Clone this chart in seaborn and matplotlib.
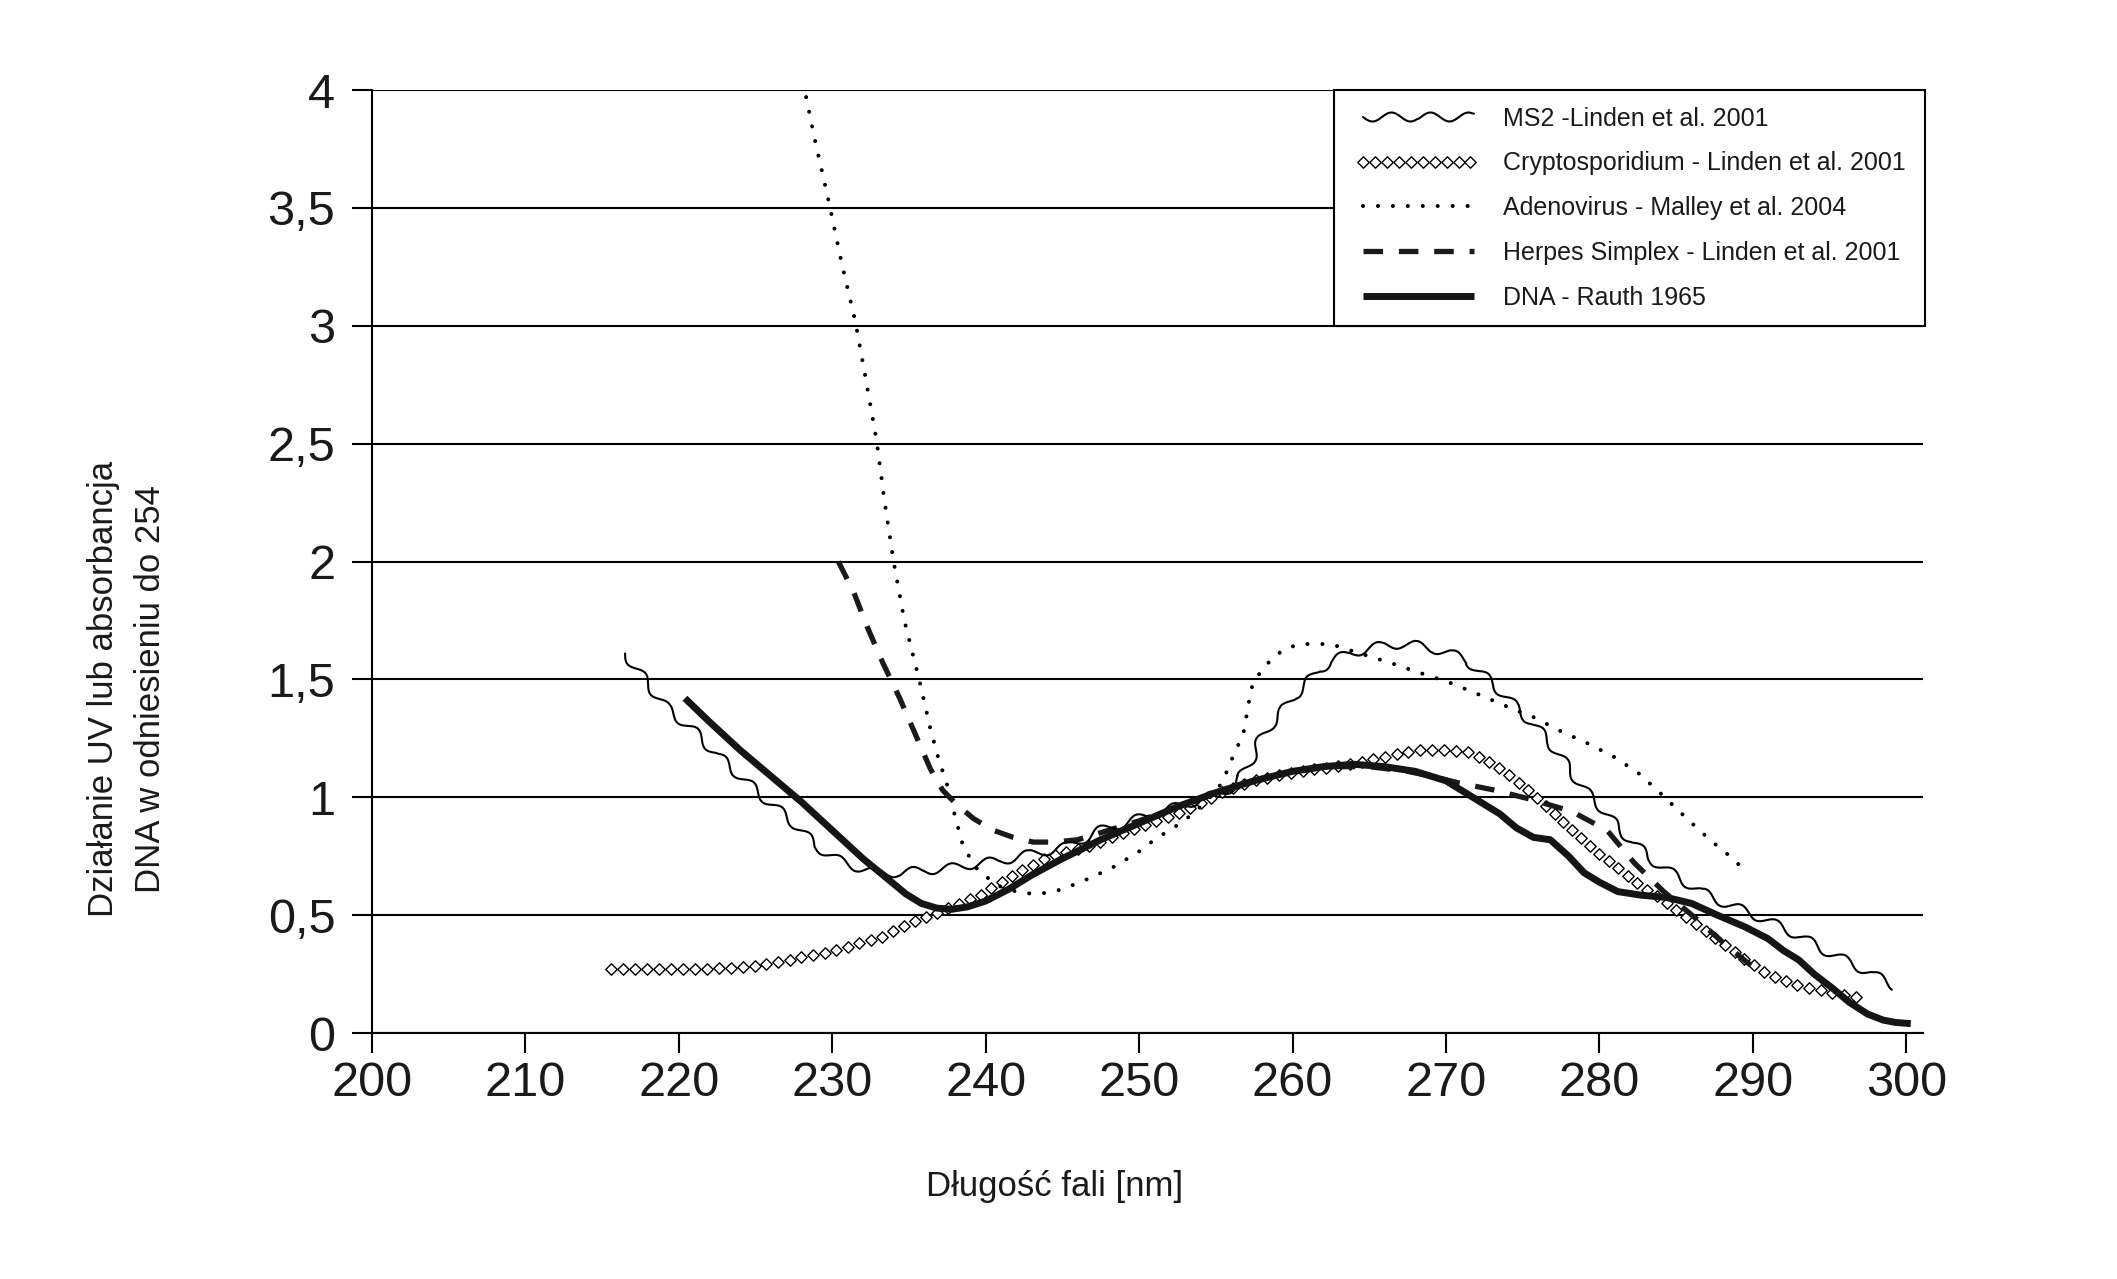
import numpy as np
import pandas as pd
import matplotlib
matplotlib.use("Agg")
import matplotlib.pyplot as plt
import seaborn as sns
from matplotlib.lines import Line2D
from matplotlib.legend_handler import HandlerLine2D
from matplotlib.path import Path
from matplotlib.transforms import Affine2D, IdentityTransform
from matplotlib.patheffects import AbstractPathEffect

# --- values ---
ms2_x = [216.5, 218, 219.2, 221, 222.5, 224, 225.7, 227.5, 229, 230.5, 231.8, 233, 234.4, 236, 237.7,
         239.5, 240.9, 243, 245.3, 247.5, 250, 252.5, 254.5, 256, 256.6, 257.3, 257.9, 258.6, 259.4,
         260.1, 260.9, 261.7, 262.6, 263.7, 264.9, 266, 267, 268, 269.2, 270.3, 271.4, 272.2, 273.1,
         274.6, 275.7, 276.8, 277.7, 278.5, 279.3, 280.1, 281.2, 282.2, 283.3, 284.9, 286.6, 288.2,
         289.8, 291.5, 293.1, 294.7, 296.3, 297.8, 299.2]
ms2_y = [1.61, 1.48, 1.38, 1.28, 1.18, 1.09, 0.99, 0.89, 0.79, 0.73, 0.70, 0.68, 0.68, 0.69, 0.70,
         0.72, 0.73, 0.76, 0.79, 0.86, 0.91, 0.96, 1.00, 1.04, 1.08, 1.16, 1.24, 1.31, 1.37,
         1.43, 1.48, 1.54, 1.58, 1.61, 1.63, 1.645, 1.65, 1.645, 1.63, 1.61, 1.58, 1.53, 1.48,
         1.38, 1.31, 1.23, 1.15, 1.08, 1.01, 0.96, 0.87, 0.81, 0.74, 0.67, 0.60, 0.55,
         0.51, 0.46, 0.41, 0.35, 0.30, 0.25, 0.20]

crypto_x = [215.6, 217, 219, 221, 223, 224.5, 226, 227.9, 229.5, 231.2, 233.3, 235.5, 237.2, 239.8,
            242, 244.2, 247, 249, 250.7, 252.9, 255.7, 257.5, 259.4, 261.5, 263.8, 265.9, 268.1,
            270.3, 271.6, 273.1, 274.6, 275.9, 277.4, 278.9, 280.4, 282.2, 284.4, 286.6, 288.7,
            290.9, 293.1, 295.2, 297]
crypto_y = [0.27, 0.27, 0.27, 0.27, 0.275, 0.28, 0.295, 0.32, 0.34, 0.37, 0.41, 0.48, 0.52, 0.59,
            0.68, 0.75, 0.80, 0.85, 0.89, 0.94, 1.03, 1.07, 1.10, 1.12, 1.14, 1.17, 1.20,
            1.20, 1.19, 1.14, 1.07, 1.00, 0.91, 0.82, 0.74, 0.65, 0.55, 0.45, 0.35,
            0.25, 0.20, 0.17, 0.15]

adeno_x = [228.3, 228.9, 229.8, 230.6, 231.5, 232.2, 232.9, 233.4, 234.0, 234.7, 235.7, 236.4, 236.9,
           237.5, 238.0, 238.5, 239.0, 239.5, 240.3, 241, 242, 243.1, 244, 245, 246.9, 248.5, 250,
           251, 252.7, 253.5, 254.5, 255.4, 256.1, 256.8, 257.2, 257.4, 258, 258.7, 259.5, 260.5,
           261.5, 262.5, 264.4, 266.4, 268.2, 270.1, 272, 273.8, 275.7, 277.5, 279.2, 281, 282.6,
           284.1, 285.7, 287.2, 288.7, 289.6]
adeno_y = [3.97, 3.78, 3.52, 3.27, 3.02, 2.77, 2.51, 2.26, 2.00, 1.75, 1.49, 1.29, 1.17,
           1.05, 0.92, 0.80, 0.74, 0.69, 0.65, 0.62, 0.60, 0.59, 0.595, 0.61, 0.66, 0.71, 0.77,
           0.82, 0.89, 0.93, 0.99, 1.06, 1.17, 1.27, 1.42, 1.48, 1.54, 1.59, 1.63, 1.65,
           1.65, 1.65, 1.61, 1.57, 1.53, 1.49, 1.44, 1.39, 1.34, 1.28, 1.23, 1.17, 1.10,
           1.01, 0.91, 0.82, 0.74, 0.68]

herpes_x = [230.4, 231.4, 232.3, 233.3, 234.4, 235.4, 236.4, 237.2, 238.1, 239.2, 240.5, 241.8, 243.1,
            244.5, 246, 248, 250, 252.5, 255, 257.5, 260, 262.5, 265, 267.5, 269, 270.9, 273.2,
            275.6, 278.2, 280.5, 282.3, 284.2, 286.4, 288.3, 290.4]
herpes_y = [2.00, 1.87, 1.72, 1.57, 1.42, 1.27, 1.12, 1.03, 0.97, 0.91, 0.86, 0.83, 0.81,
            0.81, 0.82, 0.86, 0.90, 0.96, 1.02, 1.07, 1.11, 1.13, 1.13, 1.11, 1.09, 1.06, 1.03,
            0.99, 0.94, 0.86, 0.72, 0.60, 0.48, 0.37, 0.26]

dna_x = [220.4, 222, 224, 226, 228, 230, 232, 233.5, 234.8, 235.8, 236.8, 237.8, 238.8, 240, 241.5,
         243, 245, 247.5, 250, 252.5, 255, 257.5, 260, 262, 264, 266, 268, 270, 272, 273.5, 274.6,
         275.7, 276.8, 278, 279, 280, 281.2, 282.7, 284.4, 286, 287.7, 289.5, 291, 292, 293, 294,
         295.2, 296.3, 297.5, 298.5, 299.3, 300.3]
dna_y = [1.42, 1.32, 1.20, 1.09, 0.98, 0.86, 0.74, 0.66, 0.59, 0.55, 0.53, 0.525, 0.535, 0.56, 0.61,
         0.67, 0.74, 0.82, 0.89, 0.96, 1.02, 1.07, 1.11, 1.13, 1.14, 1.13, 1.11, 1.07, 0.99, 0.93, 0.87,
         0.83, 0.82, 0.75, 0.68, 0.64, 0.60, 0.585, 0.575, 0.55, 0.50, 0.45, 0.40, 0.35, 0.31, 0.25,
         0.19, 0.13, 0.08, 0.055, 0.045, 0.04]

labels = ["MS2 -Linden et al. 2001",
          "Cryptosporidium - Linden et al. 2001",
          "Adenovirus - Malley et al. 2004",
          "Herpes Simplex - Linden et al. 2001",
          "DNA - Rauth 1965"]

x_ticks = [200, 210, 220, 230, 240, 250, 260, 270, 280, 290, 300]
y_ticks = [0, 0.5, 1, 1.5, 2, 2.5, 3, 3.5, 4]
y_tick_labels = ["0", "0,5", "1", "1,5", "2", "2,5", "3", "3,5", "4"]


class DiamondStroke(AbstractPathEffect):
    """Line style made of open diamonds placed evenly along the path."""

    def __init__(self, spacing=8.6, size=8.2):
        super().__init__()
        self._spacing = spacing
        self._size = size

    def draw_path(self, renderer, gc, tpath, affine, rgbFace=None):
        verts = affine.transform(tpath.vertices)
        verts = verts[np.isfinite(verts).all(axis=1)]
        if len(verts) < 2:
            return
        dist = np.concatenate([[0], np.cumsum(np.hypot(*np.diff(verts, axis=0).T))])
        step = renderer.points_to_pixels(self._spacing)
        at = np.arange(0, dist[-1] + 0.01, step)
        pts = np.column_stack([np.interp(at, dist, verts[:, 0]),
                               np.interp(at, dist, verts[:, 1])])
        half = renderer.points_to_pixels(self._size) / 2
        renderer.draw_markers(gc, Path.unit_regular_polygon(4), Affine2D().scale(half),
                              Path(pts), IdentityTransform(), (1, 1, 1))


sns.set_theme(style="white")
plt.rcParams["font.family"] = ["Liberation Sans", "DejaVu Sans"]

fig = plt.figure(figsize=(21.17, 12.79), dpi=100)
ax = fig.add_axes([0.1757, 0.1923, 0.9084 - 0.1757, 0.9296 - 0.1923])

crypto = pd.DataFrame({"x": crypto_x, "y": crypto_y})
sns.lineplot(data=crypto, x="x", y="y", ax=ax, color="black", lw=1.0, label=labels[1], zorder=2)
l_crypto = ax.lines[-1]
l_crypto.set_path_effects([DiamondStroke()])

adeno = pd.DataFrame({"x": adeno_x, "y": adeno_y})
sns.lineplot(data=adeno, x="x", y="y", ax=ax, color="black", lw=2.9, label=labels[2], zorder=3)
l_adeno = ax.lines[-1]
l_adeno.set_dashes((0.01, 3.7))
l_adeno.set_dash_capstyle("round")

herpes = pd.DataFrame({"x": herpes_x, "y": herpes_y})
sns.lineplot(data=herpes, x="x", y="y", ax=ax, color="#1a1a1a", lw=3.8, label=labels[3], zorder=4)
l_herpes = ax.lines[-1]
l_herpes.set_dashes((3.7, 3.0))
l_herpes.set_dash_capstyle("butt")

ms2 = pd.DataFrame({"x": ms2_x, "y": ms2_y})
sns.lineplot(data=ms2, x="x", y="y", ax=ax, color="black", lw=1.5, label=labels[0], zorder=5)
l_ms2 = ax.lines[-1]
l_ms2.set_sketch_params(4.5, 38, 1)

dna = pd.DataFrame({"x": dna_x, "y": dna_y})
sns.lineplot(data=dna, x="x", y="y", ax=ax, color="#151515", lw=5.0, label=labels[4], zorder=6)
l_dna = ax.lines[-1]
l_dna.set_solid_capstyle("butt")

ax.set_xlim(200, 301.1)
ax.set_ylim(0, 4)
ax.set_xticks(x_ticks)
ax.set_yticks(y_ticks, labels=y_tick_labels)
ax.set_xlabel("")
ax.set_ylabel("")

ax.set_axisbelow(True)
ax.yaxis.grid(True, color="black", lw=1.5)
ax.xaxis.grid(False)
for side in ["top", "right"]:
    ax.spines[side].set_visible(False)
for side in ["left", "bottom"]:
    ax.spines[side].set_color("black")
    ax.spines[side].set_linewidth(1.5)

ax.tick_params(axis="both", which="major", direction="out", length=14.4, width=1.5,
               color="black", labelsize=35, labelcolor="#1a1a1a")
ax.tick_params(axis="x", pad=6, bottom=True)
ax.tick_params(axis="y", pad=12, left=True)

handles = [l_ms2, l_crypto, l_adeno, l_herpes, l_dna]
leg = ax.legend(handles=handles, labels=labels, loc="upper left",
                bbox_to_anchor=(0.6202, 0.0, 0.381, 1.0), mode="expand", borderaxespad=0,
                fontsize=18, handlelength=4.95, handletextpad=1.15, borderpad=0.66,
                labelspacing=0.83, frameon=True, fancybox=False, framealpha=1,
                handler_map={Line2D: HandlerLine2D(xpad=0.5)})
leg.get_frame().set_edgecolor("black")
leg.get_frame().set_linewidth(1.5)
for t in leg.get_texts():
    t.set_color("#1a1a1a")

fig.text(0.0487, 0.4613, "Działanie UV lub absorbancja", rotation=90, ha="center", va="center",
         fontsize=25, color="#1a1a1a")
fig.text(0.0713, 0.4613, "DNA w odniesieniu do 254", rotation=90, ha="center", va="center",
         fontsize=25, color="#1a1a1a")
fig.text(0.498, 0.0727, "Długość fali [nm]", ha="center", va="center", fontsize=25, color="#1a1a1a")

fig.savefig("out.png", dpi=100, facecolor="white")
